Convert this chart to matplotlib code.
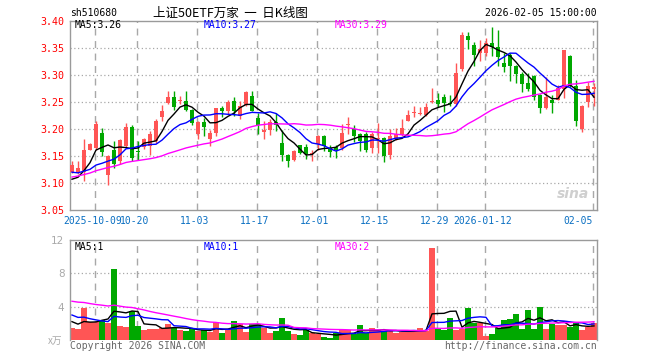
import matplotlib
matplotlib.use('Agg')
import matplotlib.pyplot as plt
import matplotlib.transforms as mtransforms
import numpy as np

W, H = 660, 360

# ---------------- data ----------------
open_ = [3.121, 3.119, 3.120, 3.162, 3.165, 3.193, 3.114, 3.162, 3.141, 3.168,
         3.203, 3.158, 3.166, 3.169, 3.178, 3.222, 3.248, 3.260, 3.251, 3.251,
         3.236, 3.191, 3.213, 3.182, 3.192, 3.238, 3.234, 3.252, 3.224, 3.244,
         3.262, 3.221, 3.194, 3.199, 3.213, 3.175, 3.152, 3.143, 3.170, 3.167,
         3.153, 3.172, 3.187, 3.165, 3.166, 3.164, 3.207, 3.200, 3.191, 3.191,
         3.164, 3.181, 3.184, 3.152, 3.182, 3.188, 3.215, 3.229, 3.228, 3.225,
         3.250, 3.254, 3.260, 3.248, 3.246, 3.311, 3.372, 3.356, 3.340, 3.341,
         3.360, 3.352, 3.323, 3.337, 3.317, 3.302, 3.286, 3.298, 3.263, 3.238,
         3.254, 3.254, 3.275, 3.335, 3.280, 3.200, 3.250, 3.275]
high = [3.140, 3.140, 3.182, 3.174, 3.215, 3.201, 3.152, 3.178, 3.182, 3.211,
        3.208, 3.178, 3.183, 3.196, 3.218, 3.244, 3.271, 3.271, 3.262, 3.271,
        3.237, 3.214, 3.221, 3.199, 3.239, 3.243, 3.253, 3.260, 3.251, 3.271,
        3.270, 3.230, 3.215, 3.218, 3.230, 3.199, 3.153, 3.161, 3.171, 3.172,
        3.162, 3.188, 3.188, 3.170, 3.170, 3.210, 3.222, 3.208, 3.192, 3.194,
        3.194, 3.211, 3.185, 3.200, 3.202, 3.219, 3.235, 3.243, 3.240, 3.249,
        3.276, 3.266, 3.265, 3.263, 3.323, 3.379, 3.379, 3.362, 3.365, 3.368,
        3.389, 3.383, 3.340, 3.340, 3.319, 3.306, 3.304, 3.300, 3.264, 3.297,
        3.263, 3.281, 3.347, 3.337, 3.291, 3.244, 3.287, 3.286]
low = [3.118, 3.116, 3.104, 3.161, 3.162, 3.150, 3.097, 3.128, 3.136, 3.166,
       3.141, 3.142, 3.163, 3.152, 3.175, 3.214, 3.246, 3.236, 3.246, 3.234,
       3.208, 3.181, 3.187, 3.169, 3.187, 3.222, 3.227, 3.224, 3.218, 3.242,
       3.233, 3.191, 3.181, 3.188, 3.196, 3.140, 3.130, 3.140, 3.153, 3.145,
       3.141, 3.161, 3.160, 3.149, 3.147, 3.162, 3.191, 3.176, 3.159, 3.158,
       3.155, 3.156, 3.138, 3.144, 3.180, 3.187, 3.214, 3.222, 3.225, 3.224,
       3.249, 3.240, 3.231, 3.243, 3.243, 3.308, 3.348, 3.317, 3.325, 3.335,
       3.335, 3.317, 3.306, 3.288, 3.285, 3.269, 3.271, 3.254, 3.230, 3.237,
       3.230, 3.253, 3.257, 3.278, 3.205, 3.195, 3.241, 3.243]
close = [3.133, 3.128, 3.162, 3.173, 3.209, 3.158, 3.150, 3.136, 3.180, 3.204,
         3.147, 3.157, 3.181, 3.190, 3.215, 3.234, 3.260, 3.240, 3.254, 3.236,
         3.212, 3.213, 3.204, 3.192, 3.238, 3.233, 3.250, 3.234, 3.242, 3.268,
         3.234, 3.207, 3.199, 3.213, 3.207, 3.152, 3.140, 3.159, 3.155, 3.154,
         3.155, 3.187, 3.169, 3.158, 3.162, 3.193, 3.210, 3.187, 3.178, 3.161,
         3.191, 3.183, 3.150, 3.187, 3.191, 3.202, 3.225, 3.231, 3.230, 3.240,
         3.252, 3.246, 3.248, 3.246, 3.304, 3.374, 3.364, 3.337, 3.348, 3.360,
         3.352, 3.334, 3.315, 3.317, 3.302, 3.283, 3.275, 3.260, 3.238, 3.260,
         3.248, 3.275, 3.346, 3.281, 3.215, 3.242, 3.280, 3.277]
volume = [1.40, 1.32, 3.88, 2.12, 2.12, 2.40, 2.08, 8.56, 1.68, 1.56,
          3.52, 1.72, 1.20, 1.32, 1.32, 1.40, 1.92, 1.48, 1.20, 1.08,
          1.32, 1.08, 1.20, 1.00, 2.20, 0.88, 1.28, 2.28, 1.92, 1.00,
          1.88, 1.92, 1.48, 0.88, 1.08, 2.68, 1.08, 0.72, 0.60, 1.20,
          0.80, 0.72, 0.36, 0.28, 0.80, 1.16, 1.16, 0.68, 1.80, 0.80,
          1.40, 1.16, 1.08, 1.16, 0.88, 1.00, 1.08, 1.08, 1.44, 1.08,
          11.0, 1.32, 1.16, 2.64, 1.20, 1.36, 3.88, 2.08, 2.08, 0.52,
          0.72, 1.48, 2.40, 2.52, 3.12, 1.32, 3.60, 1.32, 3.96, 1.32,
          1.92, 1.84, 1.84, 1.56, 2.08, 1.16, 1.56, 2.08]
# sessions before the visible window (only feed the moving averages)
prior_close = [3.07, 3.08, 3.09, 3.08, 3.07, 3.06, 3.07, 3.08, 3.09, 3.088,
               3.11, 3.13, 3.14, 3.15, 3.14, 3.13, 3.14, 3.15, 3.13, 3.133,
               3.14, 3.13, 3.14, 3.13, 3.125, 3.11, 3.10, 3.10, 3.092]
prior_volume = [4.5, 5.2, 6.0, 5.5, 4.8, 5.0, 5.6, 5.3, 4.9, 4.94,
                6.2, 5.5, 6.8, 5.9, 5.4, 6.1, 5.7, 5.2, 5.6, 5.36,
                4.2, 3.6, 4.0, 3.5, 3.7, 2.8, 2.3, 2.5, 2.0]
tick_pos = [4, 11, 21, 31, 41, 51, 61, 69, 87]
tick_labels = ['2025-10-09', '10-20', '11-03', '11-17', '12-01', '12-15',
               '12-29', '2026-01-12', '02-05']
price_ticks = [3.05, 3.10, 3.15, 3.20, 3.25, 3.30, 3.35, 3.40]
vol_ticks = [4, 8, 12]
ma_windows = [5, 10, 30]

# ---------------- style ----------------
RED = '#ff5555'
GREEN = '#00a800'
MA_COLORS = ['#000000', '#0000ff', '#ff00ff']
GRID = '#a8a8a8'
FRAME = '#9a9a9a'
MONO = 'DejaVu Sans Mono'
CJK = ['Noto Sans CJK SC', 'DejaVu Sans']

n = len(close)
x = np.arange(n)
o = np.array(open_); h = np.array(high); l = np.array(low); c = np.array(close)
v = np.array(volume)
colors = [RED if c[i] >= o[i] else GREEN for i in range(n)]


def moving_avg(prior, vals, w):
    full = np.concatenate([np.array(prior), np.array(vals)])
    out = np.convolve(full, np.ones(w) / w, mode='valid')
    return out[-len(vals):]


fig = plt.figure(figsize=(W / 100, H / 100), dpi=100)
fig.patch.set_facecolor('white')


def px_axes(left, top, right, bottom):
    return fig.add_axes([left / W, 1 - bottom / H, (right - left) / W, (bottom - top) / H])


XL = (-1 / 3, 87.5)

# ---------------- price panel ----------------
ax = px_axes(70, 21, 597, 210)
ax.set_xlim(*XL)
ax.set_ylim(price_ticks[0], price_ticks[-1])
for yv in price_ticks[1:-1]:
    ax.axhline(yv, color=GRID, lw=0.9, ls=(0, (1, 2)), zorder=1)
for p in tick_pos:
    ax.axvline(p - 0.25, color=GRID, lw=1, ls=(0, (5, 4)), zorder=1)

ax.vlines(x, l, h, colors=colors, lw=1, zorder=2)
body_h = np.maximum(np.abs(c - o), 0.0016)
body_b = np.minimum(o, c)
ax.bar(x, body_h, bottom=body_b, width=0.78, color=colors, linewidth=0, zorder=3)

ma_vals = []
for w, col in zip(ma_windows, MA_COLORS):
    m = moving_avg(prior_close, close, w)
    ma_vals.append(m)
    ax.plot(x, m, color=col, lw=1, zorder=4)

ax.set_yticks(price_ticks)
ax.set_yticklabels([f'{t:.2f}' for t in price_ticks], color='#ff0000',
                   fontfamily=MONO, fontsize=7.2)
ax.tick_params(axis='y', length=0, pad=4)
ax.set_xticks([])
for s in ax.spines.values():
    s.set_color(FRAME); s.set_linewidth(1)

trans = mtransforms.blended_transform_factory(ax.transData, ax.transAxes)
for i, (p, lab) in enumerate(zip(tick_pos, tick_labels)):
    ha = 'right' if i == len(tick_pos) - 1 else 'center'
    xp = p - 0.25 if ha == 'right' else p - 0.6
    ax.text(xp, -0.058, lab, transform=trans, ha=ha, va='center',
            color='#0a6fc2', fontfamily=MONO, fontsize=7)

for (w, col, m, xpix) in zip(ma_windows, MA_COLORS, ma_vals, [75, 204, 335]):
    fig.text(xpix / W, 1 - 25.5 / H, f'MA{w}:{m[-1]:.2f}', color=col,
             fontfamily=MONO, fontsize=7, va='center', ha='left')

# sina watermark
ax.text(0.955, 0.085, 'sina', transform=ax.transAxes, ha='center', va='center',
        color='#cfcfcf', fontsize=10, fontweight='bold', fontstyle='italic', zorder=0)

# ---------------- volume panel ----------------
av = px_axes(70, 240, 597, 340)
av.set_xlim(*XL)
av.set_ylim(0, vol_ticks[-1])
for yv in vol_ticks[:-1]:
    av.axhline(yv, color=GRID, lw=0.9, ls=(0, (1, 2)), zorder=1)
for p in tick_pos:
    av.axvline(p - 0.25, color=GRID, lw=1, ls=(0, (5, 4)), zorder=1)
av.bar(x, v, width=0.85, color=colors, linewidth=0, zorder=2)
vma_vals = []
for w, col in zip(ma_windows, MA_COLORS):
    m = moving_avg(prior_volume, volume, w)
    vma_vals.append(m)
    av.plot(x, m, color=col, lw=1, zorder=3)
av.set_yticks(vol_ticks)
av.set_yticklabels([str(t) for t in vol_ticks], color='#aaaaaa', fontsize=7.5)
av.tick_params(axis='y', length=0, pad=4)
av.set_xticks([])
for k, s in av.spines.items():
    s.set_color(FRAME); s.set_linewidth(1)
av.spines['bottom'].set_visible(False)

for (w, col, m, xpix) in zip(ma_windows, MA_COLORS, vma_vals, [75, 204, 335]):
    fig.text(xpix / W, 1 - 247 / H, f'MA{w}:{int(m[-1])}', color=col,
             fontfamily=MONO, fontsize=7, va='center', ha='left')

fig.text(62 / W, 1 - 341 / H, 'x万', color='#aaaaaa', fontfamily=CJK,
         fontsize=7, ha='right', va='center')

# ---------------- header / footer ----------------
fig.text(70 / W, 1 - 13 / H, 'sh510680', fontfamily=MONO, fontsize=7,
         color='#000000', ha='left', va='center')
fig.text(230 / W, 1 - 13 / H, '上证50ETF万家  一  日K线图', fontfamily=CJK,
         fontsize=9, color='#000000', ha='center', va='center')
fig.text(597 / W, 1 - 13 / H, '2026-02-05 15:00:00', fontfamily=MONO,
         fontsize=7, color='#000000', ha='right', va='center')
fig.text(70 / W, 1 - 346 / H, 'Copyright 2026 SINA.COM', fontfamily=MONO,
         fontsize=7, color='#666666', ha='left', va='center')
fig.text(597 / W, 1 - 346 / H, 'http://finance.sina.com.cn', fontfamily=MONO,
         fontsize=7, color='#666666', ha='right', va='center')

fig.savefig('out.png', dpi=100, facecolor='white')
